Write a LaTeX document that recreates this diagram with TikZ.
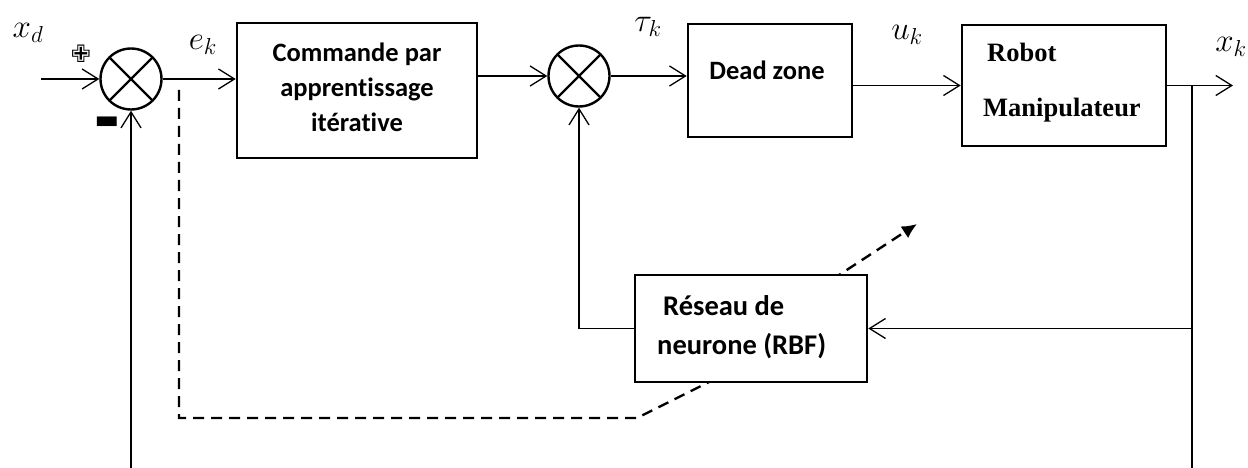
\RequirePackage{fix-cm}
\documentclass[tikz,border=0pt]{standalone}
\usepackage{fontspec}
\setmainfont{Liberation Serif}
\newfontfamily\blockfont[Ligatures=NoCommon]{Carlito}
\newfontfamily\symbolfont{DejaVu Sans}
\usetikzlibrary{arrows.meta}

\begin{document}
\begin{tikzpicture}[x=1pt,y=-1pt,
  conn/.style={line width=1.3pt},
  arr/.style={conn,-{Straight Barb[length=16pt,width=20pt]}},
  blk/.style={draw,line width=2.6pt,fill=white,inner sep=0pt},
  sumj/.style={draw,circle,line width=2.4pt,minimum size=61pt,inner sep=0pt,
    path picture={\draw[line width=2.4pt]
      (path picture bounding box.north west) -- (path picture bounding box.south east)
      (path picture bounding box.north east) -- (path picture bounding box.south west);}},
  sig/.style={font=\fontsize{33}{33}\selectfont,inner sep=0pt},
  txt/.style={font=\blockfont\bfseries\fontsize{26.5}{35}\selectfont,align=center,inner sep=0pt},
  rtxt/.style={font=\bfseries\fontsize{26.5}{30}\selectfont,inner sep=0pt},
  ntxt/.style={font=\blockfont\bfseries\fontsize{28.5}{39}\selectfont,inner sep=0pt},
  adapt/.style={line width=2.4pt,dash pattern=on 11pt off 7pt}]

\useasboundingbox (0,0) rectangle (1248,468);

% summing junctions
\node[sumj] (s1) at (131,79) {};
\node[sumj] (s2) at (579,76) {};

% blocks of the forward path
\node[blk,minimum width=240pt,minimum height=135pt] (b1) at (357,90.5) {};
\node[txt] (b1t) at (357,87) {Commande par\\apprentissage\\itérative};
\node[blk,minimum width=164pt,minimum height=113pt] (dz) at (770,80.5) {};
\node[txt] (dzt) at (767,70) {Dead zone};
\node[blk,minimum width=204pt,minimum height=121pt] (rob) at (1064,85.5) {};
\node[rtxt,anchor=base west] (robt1) at (987,62) {Robot};
\node[rtxt,anchor=base west] (robt2) at (983,117) {Manipulateur};

% learning path (dashed), passing behind the network block
\coordinate (d0) at (179,90);
\coordinate (d1) at (179,418);
\coordinate (d2) at (637,418);
\coordinate (d3) at (709,382);
\coordinate (d4) at (836,277);
\coordinate (d5) at (917,224);
\draw[adapt,-{Latex[length=15pt,width=14pt]}] (d0) -- (d1) -- (d2) -- (d3) -- (d4) -- (d5);

% neural network block
\node[blk,minimum width=232pt,minimum height=107pt] (rbf) at (751,328.5) {};
\node[ntxt,anchor=base west] (rbft1) at (663,315) {Réseau de};
\node[ntxt,anchor=base west] (rbft2) at (657,354) {neurone (RBF)};

% signal labels
\node[sig] (lxd) at (28,33) {$x_d$};
\node[sig] (lek) at (203,45) {$e_k$};
\node[sig] (ltk) at (648,27) {$\tau_k$};
\node[sig] (luk) at (907,35) {$u_k$};
\node[sig] (lxk) at (1231,47) {$x_k$};

% signs of the first junction
\node[font=\symbolfont\fontsize{24}{24}\selectfont,inner sep=0pt] (plus) at (81,54) {✙};
\node[font=\symbolfont\fontsize{26}{26}\selectfont,inner sep=0pt] (minus) at (107,123) {▬};

% connectors
\coordinate (xin) at (41,79);
\coordinate (xout) at (1233,85.5);
\coordinate (br) at (1192,85.5);
\coordinate (brend) at (1192,468);
\coordinate (fbl) at (131,468);

\draw[arr] (xin) -- (s1.west);
\draw[arr] (s1.east) -- (s1.east -| b1.west);
\draw[arr] (b1.east |- s2) -- (s2.west);
\draw[arr] (s2.east) -- (s2.east -| dz.west);
\draw[arr] (dz.east |- rob) -- (rob.west);
\draw[arr] (rob.east) -- (xout);
\draw[conn] (br) -- (brend);
\draw[arr] (br |- rbf.east) -- (rbf.east);
\draw[arr] (rbf.west) -- (rbf.west -| s2) -- (s2.south);
\draw[arr] (fbl) -- (s1.south);
\end{tikzpicture}
\end{document}
